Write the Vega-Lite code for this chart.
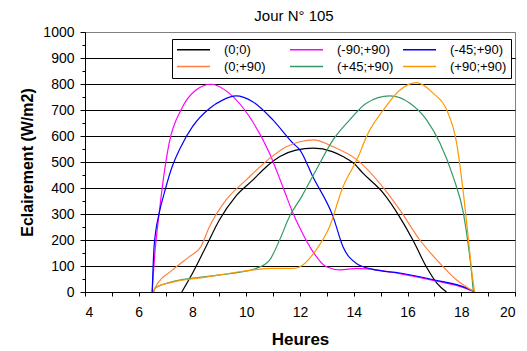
{
  "$schema": "https://vega.github.io/schema/vega-lite/v6.json",
  "width": 430,
  "height": 260,
  "autosize": {"type": "none"},
  "padding": {"left": 85, "top": 32, "right": 12, "bottom": 59},
  "background": "white",
  "title": {"text": "Jour N° 105", "fontSize": 15, "fontWeight": "normal", "font": "Liberation Sans", "color": "black", "anchor": "middle", "frame": "group", "offset": 1, "dx": -6},
  "config": {
    "view": {"stroke": "#808080", "strokeWidth": 1},
    "font": "Liberation Sans"
  },
  "data": {"values": [
    {"h": 7.6, "v": 0, "s": "(0;0)"}, {"h": 8.0, "v": 72, "s": "(0;0)"}, {"h": 8.5, "v": 174, "s": "(0;0)"}, {"h": 9.0, "v": 277, "s": "(0;0)"}, {"h": 9.6, "v": 367, "s": "(0;0)"}, {"h": 10.25, "v": 431, "s": "(0;0)"}, {"h": 10.75, "v": 482, "s": "(0;0)"}, {"h": 11.25, "v": 521, "s": "(0;0)"}, {"h": 11.85, "v": 546, "s": "(0;0)"}, {"h": 12.5, "v": 553, "s": "(0;0)"}, {"h": 13.2, "v": 540, "s": "(0;0)"}, {"h": 13.6, "v": 521, "s": "(0;0)"}, {"h": 14.0, "v": 495, "s": "(0;0)"}, {"h": 14.35, "v": 456, "s": "(0;0)"}, {"h": 15.1, "v": 380, "s": "(0;0)"}, {"h": 15.7, "v": 290, "s": "(0;0)"}, {"h": 16.2, "v": 200, "s": "(0;0)"}, {"h": 16.7, "v": 97, "s": "(0;0)"}, {"h": 17.1, "v": 33, "s": "(0;0)"}, {"h": 17.45, "v": 0, "s": "(0;0)"},

    {"h": 6.5, "v": 0, "s": "(-90;+90)"}, {"h": 6.6, "v": 150, "s": "(-90;+90)"}, {"h": 6.76, "v": 303, "s": "(-90;+90)"}, {"h": 6.95, "v": 460, "s": "(-90;+90)"}, {"h": 7.13, "v": 572, "s": "(-90;+90)"}, {"h": 7.57, "v": 700, "s": "(-90;+90)"}, {"h": 8.13, "v": 777, "s": "(-90;+90)"}, {"h": 8.69, "v": 799, "s": "(-90;+90)"}, {"h": 9.37, "v": 764, "s": "(-90;+90)"}, {"h": 10.12, "v": 674, "s": "(-90;+90)"}, {"h": 10.87, "v": 533, "s": "(-90;+90)"}, {"h": 11.36, "v": 405, "s": "(-90;+90)"}, {"h": 11.74, "v": 303, "s": "(-90;+90)"}, {"h": 12.0, "v": 245, "s": "(-90;+90)"}, {"h": 12.48, "v": 155, "s": "(-90;+90)"}, {"h": 12.98, "v": 97, "s": "(-90;+90)"}, {"h": 13.5, "v": 85, "s": "(-90;+90)"}, {"h": 14.1, "v": 91, "s": "(-90;+90)"}, {"h": 14.5, "v": 89, "s": "(-90;+90)"}, {"h": 15.7, "v": 71, "s": "(-90;+90)"}, {"h": 16.96, "v": 45, "s": "(-90;+90)"}, {"h": 18.2, "v": 13, "s": "(-90;+90)"}, {"h": 18.5, "v": 0, "s": "(-90;+90)"},

    {"h": 6.5, "v": 0, "s": "(-45;+90)"}, {"h": 6.57, "v": 174, "s": "(-45;+90)"}, {"h": 6.76, "v": 303, "s": "(-45;+90)"}, {"h": 6.95, "v": 380, "s": "(-45;+90)"}, {"h": 7.2, "v": 469, "s": "(-45;+90)"}, {"h": 7.57, "v": 559, "s": "(-45;+90)"}, {"h": 8.0, "v": 636, "s": "(-45;+90)"}, {"h": 8.63, "v": 706, "s": "(-45;+90)"}, {"h": 9.12, "v": 738, "s": "(-45;+90)"}, {"h": 9.62, "v": 754, "s": "(-45;+90)"}, {"h": 10.24, "v": 732, "s": "(-45;+90)"}, {"h": 10.99, "v": 662, "s": "(-45;+90)"}, {"h": 11.74, "v": 572, "s": "(-45;+90)"}, {"h": 12.0, "v": 546, "s": "(-45;+90)"}, {"h": 12.48, "v": 443, "s": "(-45;+90)"}, {"h": 13.23, "v": 290, "s": "(-45;+90)"}, {"h": 13.6, "v": 174, "s": "(-45;+90)"}, {"h": 14.1, "v": 110, "s": "(-45;+90)"}, {"h": 14.72, "v": 87, "s": "(-45;+90)"}, {"h": 15.72, "v": 73, "s": "(-45;+90)"}, {"h": 16.96, "v": 47, "s": "(-45;+90)"}, {"h": 18.2, "v": 15, "s": "(-45;+90)"}, {"h": 18.5, "v": 0, "s": "(-45;+90)"},

    {"h": 6.55, "v": 0, "s": "(0;+90)"}, {"h": 6.6, "v": 14, "s": "(0;+90)"}, {"h": 7.26, "v": 85, "s": "(0;+90)"}, {"h": 7.88, "v": 136, "s": "(0;+90)"}, {"h": 8.31, "v": 174, "s": "(0;+90)"}, {"h": 8.63, "v": 251, "s": "(0;+90)"}, {"h": 9.25, "v": 354, "s": "(0;+90)"}, {"h": 10.0, "v": 431, "s": "(0;+90)"}, {"h": 10.87, "v": 514, "s": "(0;+90)"}, {"h": 11.49, "v": 559, "s": "(0;+90)"}, {"h": 12.0, "v": 578, "s": "(0;+90)"}, {"h": 12.5, "v": 585, "s": "(0;+90)"}, {"h": 13.23, "v": 559, "s": "(0;+90)"}, {"h": 14.1, "v": 510, "s": "(0;+90)"}, {"h": 14.97, "v": 418, "s": "(0;+90)"}, {"h": 15.72, "v": 315, "s": "(0;+90)"}, {"h": 16.46, "v": 200, "s": "(0;+90)"}, {"h": 17.21, "v": 110, "s": "(0;+90)"}, {"h": 17.83, "v": 46, "s": "(0;+90)"}, {"h": 18.5, "v": 0, "s": "(0;+90)"},

    {"h": 6.55, "v": 0, "s": "(+45;+90)"}, {"h": 6.6, "v": 14, "s": "(+45;+90)"}, {"h": 7.26, "v": 40, "s": "(+45;+90)"}, {"h": 8.5, "v": 59, "s": "(+45;+90)"}, {"h": 9.5, "v": 72, "s": "(+45;+90)"}, {"h": 10.37, "v": 91, "s": "(+45;+90)"}, {"h": 10.87, "v": 123, "s": "(+45;+90)"}, {"h": 11.24, "v": 200, "s": "(+45;+90)"}, {"h": 11.61, "v": 290, "s": "(+45;+90)"}, {"h": 12.05, "v": 365, "s": "(+45;+90)"}, {"h": 12.6, "v": 469, "s": "(+45;+90)"}, {"h": 13.23, "v": 585, "s": "(+45;+90)"}, {"h": 13.85, "v": 662, "s": "(+45;+90)"}, {"h": 14.47, "v": 726, "s": "(+45;+90)"}, {"h": 15.34, "v": 754, "s": "(+45;+90)"}, {"h": 16.09, "v": 726, "s": "(+45;+90)"}, {"h": 16.71, "v": 662, "s": "(+45;+90)"}, {"h": 17.21, "v": 572, "s": "(+45;+90)"}, {"h": 17.7, "v": 443, "s": "(+45;+90)"}, {"h": 18.08, "v": 303, "s": "(+45;+90)"}, {"h": 18.27, "v": 174, "s": "(+45;+90)"}, {"h": 18.4, "v": 59, "s": "(+45;+90)"}, {"h": 18.45, "v": 0, "s": "(+45;+90)"},

    {"h": 6.55, "v": 0, "s": "(+90;+90)"}, {"h": 6.6, "v": 14, "s": "(+90;+90)"}, {"h": 7.26, "v": 38, "s": "(+90;+90)"}, {"h": 8.5, "v": 57, "s": "(+90;+90)"}, {"h": 9.75, "v": 78, "s": "(+90;+90)"}, {"h": 10.99, "v": 91, "s": "(+90;+90)"}, {"h": 11.74, "v": 91, "s": "(+90;+90)"}, {"h": 12.0, "v": 97, "s": "(+90;+90)"}, {"h": 12.6, "v": 162, "s": "(+90;+90)"}, {"h": 13.1, "v": 251, "s": "(+90;+90)"}, {"h": 13.6, "v": 405, "s": "(+90;+90)"}, {"h": 13.98, "v": 482, "s": "(+90;+90)"}, {"h": 14.22, "v": 533, "s": "(+90;+90)"}, {"h": 14.47, "v": 597, "s": "(+90;+90)"}, {"h": 15.1, "v": 700, "s": "(+90;+90)"}, {"h": 15.72, "v": 777, "s": "(+90;+90)"}, {"h": 16.34, "v": 805, "s": "(+90;+90)"}, {"h": 16.96, "v": 764, "s": "(+90;+90)"}, {"h": 17.46, "v": 700, "s": "(+90;+90)"}, {"h": 17.83, "v": 572, "s": "(+90;+90)"}, {"h": 18.08, "v": 380, "s": "(+90;+90)"}, {"h": 18.27, "v": 200, "s": "(+90;+90)"}, {"h": 18.4, "v": 72, "s": "(+90;+90)"}, {"h": 18.5, "v": 0, "s": "(+90;+90)"}
  ]},
  "mark": {"type": "line", "strokeWidth": 1.2, "clip": true, "interpolate": "monotone"},
  "encoding": {
    "x": {
      "field": "h", "type": "quantitative",
      "scale": {"domain": [4, 20], "nice": false, "zero": false},
      "axis": {
        "title": "Heures", "titleFontSize": 17, "titleFontWeight": "bold", "titleColor": "black", "titlePadding": 12,
        "values": [4,5,6,7,8,9,10,11,12,13,14,15,16,17,18,19,20],
        "labelExpr": "datum.value % 2 == 0 ? datum.label : ''",
        "labelOverlap": false, "labelFontSize": 14, "labelColor": "black", "labelPadding": 9,
        "tickSize": 4, "tickColor": "black", "domainColor": "black", "grid": false
      }
    },
    "y": {
      "field": "v", "type": "quantitative",
      "scale": {"domain": [0, 1000], "nice": false},
      "axis": {
        "title": "Eclairement (W/m2)", "titleFontSize": 16, "titleFontWeight": "bold", "titleColor": "black", "titlePadding": 7,
        "values": [0,50,100,150,200,250,300,350,400,450,500,550,600,650,700,750,800,850,900,950,1000],
        "format": "d",
        "labelExpr": "datum.value % 100 == 0 ? datum.label : ''",
        "labelOverlap": false, "labelFontSize": 14, "labelColor": "black", "labelPadding": 6,
        "tickSize": {"condition": {"test": "datum.value % 100 == 0", "value": 5}, "value": 3},
        "tickColor": "black", "domainColor": "black",
        "grid": true,
        "gridColor": {"condition": {"test": "datum.value == 1000", "value": "#808080"}, "value": "black"},
        "gridOpacity": {"condition": {"test": "datum.value % 100 == 0", "value": 1}, "value": 0}
      }
    },
    "color": {
      "field": "s", "type": "nominal",
      "scale": {
        "domain": ["(0;0)", "(0;+90)", "(-90;+90)", "(+45;+90)", "(-45;+90)", "(+90;+90)"],
        "range": ["#000000", "#FF8040", "#FF00FF", "#339966", "#0000FF", "#FF9900"]
      },
      "legend": {
        "title": null, "orient": "none", "legendX": 87, "legendY": 7,
        "columns": 3, "gridAlign": "all", "columnPadding": 6, "rowPadding": 3,
        "fillColor": "white", "strokeColor": "black", "padding": 4,
        "symbolType": "M-3,0H3", "symbolSize": 121, "symbolStrokeWidth": 1.5, "symbolOffset": 11,
        "labelFontSize": 13, "labelOffset": 24, "labelColor": "black"
      }
    }
  }
}
